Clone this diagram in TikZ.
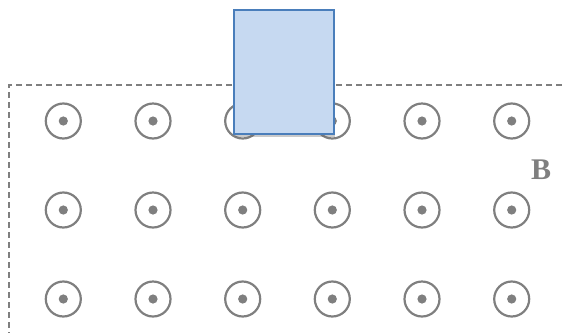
\documentclass[tikz,border=0pt]{standalone}
\usepackage{fontspec}
\setmainfont{Liberation Serif}
\usetikzlibrary{shadows}
\usetikzlibrary{positioning}

\definecolor{markgray}{HTML}{7F7F7F}
\definecolor{loopfill}{HTML}{C6D9F1}
\definecolor{loopline}{HTML}{4A7EBB}

\tikzset{
  fieldmark/.style={circle, draw=markgray, line width=2.2pt, minimum size=35pt, inner sep=0pt},
  border/.style={draw=markgray, line width=1.5pt, dash pattern=on 6pt off 4pt},
  loopbox/.style={rectangle, draw=loopline, fill=loopfill, line width=2.2pt,
    minimum width=100pt, minimum height=124pt, inner sep=0pt,
    drop shadow={shadow xshift=1pt, shadow yshift=-3pt, opacity=0.35, fill=black!60}}
}

\begin{document}
\begin{tikzpicture}[x=1pt,y=-1pt]
  \useasboundingbox (0,0) rectangle (562,333);
  % field region edge
  \draw[border] (562,85) -| (9,333);
  % field points out of page
  \foreach \r/\ypos in {1/121, 2/210, 3/299}
    \foreach \c/\xpos in {1/63.3, 2/153, 3/242.7, 4/332.3, 5/422, 6/511.7} {
      \node[fieldmark] (d_\r_\c) at (\xpos,\ypos) {};
      \fill[markgray] (d_\r_\c.center) circle (4.6pt);
    }
  \node[text=markgray, font=\fontsize{30}{30}\selectfont\bfseries] (b_lbl) at (541,170) {B};
  % conducting loop
  \node[loopbox] (loop) at (284,72) {};
\end{tikzpicture}
\end{document}
